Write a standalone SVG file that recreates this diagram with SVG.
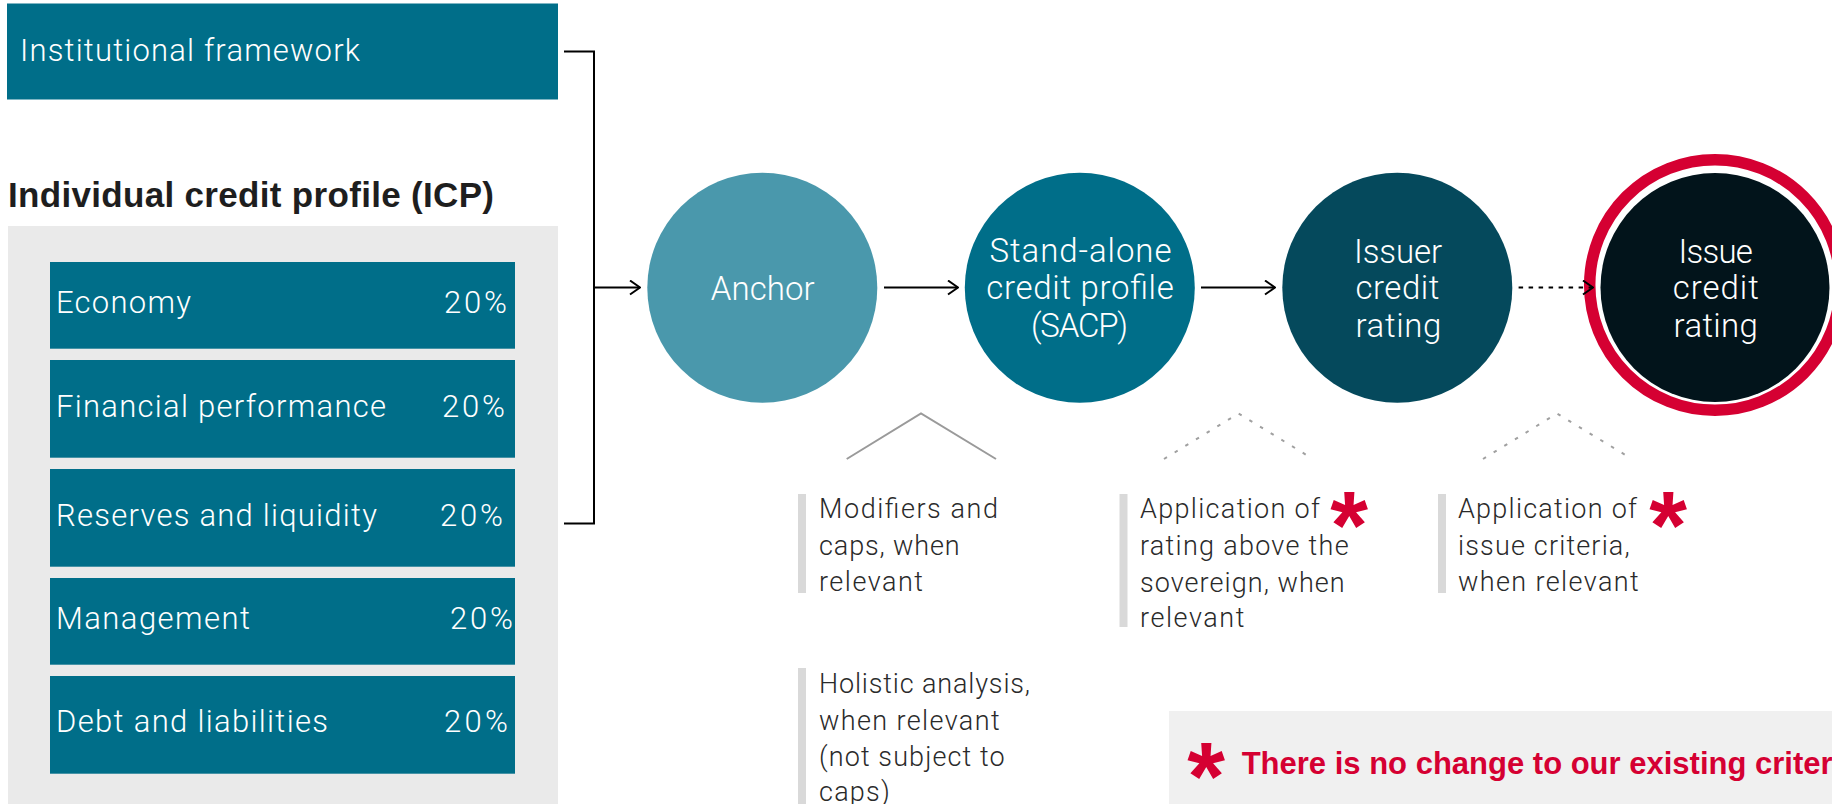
<svg xmlns="http://www.w3.org/2000/svg" width="1832" height="804" viewBox="0 0 1832 804">
  <style>
    .lt { font-family: Roboto, "Liberation Sans", Arial, sans-serif; font-weight: 300; }
    .white { fill: #ffffff; }
    .boxt { font-size: 31px; }
    .circt { font-size: 33px; }
    .note { font-size: 27px; fill: #2a2a2a; }
    .hdr { font-family: "Liberation Sans", Arial, sans-serif; font-weight: 700; font-size: 35px; fill: #1e1e1e; }
    .star { font-family: "Liberation Sans", Arial, sans-serif; font-weight: 700; font-size: 97px; fill: #d50032; }
    .foot { font-family: "Liberation Sans", Arial, sans-serif; font-weight: 700; font-size: 31px; fill: #d50032; }
    .teal { fill: #006e89; }
    .bar { fill: #d9d9d9; }
    .conn { fill: none; stroke: #000000; stroke-width: 2; }
    .hat { fill: none; stroke: #9a9a9a; stroke-width: 2; }
    .hat-dot { fill: none; stroke: #a0a0a0; stroke-width: 2; stroke-dasharray: 3.5 9; }
  </style>
  <defs>
    <marker id="chev" viewBox="0 0 12 16" refX="11" refY="8" markerWidth="12" markerHeight="16" markerUnits="userSpaceOnUse" orient="auto">
      <path d="M1,1 L11,8 L1,15" fill="none" stroke="#000000" stroke-width="2"/>
    </marker>
  </defs>

  <rect width="1832" height="804" fill="#ffffff"/>

  <!-- Institutional framework -->
  <g id="institutional-framework">
    <rect class="teal" x="7" y="3.5" width="551" height="96"/>
    <text class="lt white boxt" x="20" y="61" font-size="32" textLength="340">Institutional framework</text>
  </g>

  <!-- Individual credit profile -->
  <g id="icp">
    <text class="hdr" x="8" y="207" textLength="486">Individual credit profile (ICP)</text>
    <rect x="8" y="226" width="550" height="578" fill="#eaeaea"/>
  </g>

  <g id="icp-economy">
    <rect class="teal" x="50" y="262" width="465" height="86.7"/>
    <text class="lt white boxt" x="56" y="313.3" textLength="135">Economy</text>
    <text class="lt white boxt" x="444" y="313.3" textLength="63">20%</text>
  </g>
  <g id="icp-financial">
    <rect class="teal" x="50" y="360" width="465" height="97.7"/>
    <text class="lt white boxt" x="56" y="416.7" textLength="330">Financial performance</text>
    <text class="lt white boxt" x="442" y="416.7" textLength="63">20%</text>
  </g>
  <g id="icp-reserves">
    <rect class="teal" x="50" y="469" width="465" height="97.7"/>
    <text class="lt white boxt" x="56" y="525.5" textLength="321">Reserves and liquidity</text>
    <text class="lt white boxt" x="440" y="525.5" textLength="63">20%</text>
  </g>
  <g id="icp-management">
    <rect class="teal" x="50" y="578" width="465" height="86.7"/>
    <text class="lt white boxt" x="56" y="629.3" textLength="194">Management</text>
    <text class="lt white boxt" x="450" y="629.3" textLength="63">20%</text>
  </g>
  <g id="icp-debt">
    <rect class="teal" x="50" y="676" width="465" height="97.7"/>
    <text class="lt white boxt" x="56" y="732.3" textLength="272">Debt and liabilities</text>
    <text class="lt white boxt" x="444" y="732.3" textLength="64">20%</text>
  </g>

  <!-- Rating chain -->
  <g id="anchor">
    <circle cx="762.3" cy="287.8" r="115" fill="#4a98ac"/>
    <text class="lt white circt" x="710.7" y="300" textLength="104">Anchor</text>
  </g>
  <g id="sacp">
    <circle cx="1079.8" cy="287.8" r="115" fill="#006e89"/>
    <text class="lt white circt" x="989.5" y="262" textLength="182">Stand-alone</text>
    <text class="lt white circt" x="986.3" y="299" textLength="187.5">credit profile</text>
    <text class="lt white circt" x="1031" y="336.7" textLength="97">(SACP)</text>
  </g>
  <g id="issuer-rating">
    <circle cx="1397.3" cy="287.8" r="115" fill="#05495c"/>
    <text class="lt white circt" x="1354" y="262.7" textLength="88">Issuer</text>
    <text class="lt white circt" x="1355.4" y="299.3" textLength="84">credit</text>
    <text class="lt white circt" x="1355.4" y="336.7" textLength="86">rating</text>
  </g>
  <g id="issue-rating">
    <circle cx="1715" cy="285" r="125.3" fill="none" stroke="#d50032" stroke-width="11.5"/>
    <circle cx="1715" cy="287.5" r="114.5" fill="#02141b"/>
    <text class="lt white circt" x="1678.6" y="262.7" textLength="74.2">Issue</text>
    <text class="lt white circt" x="1672.8" y="299.3" textLength="86">credit</text>
    <text class="lt white circt" x="1673.6" y="336.7" textLength="84.3">rating</text>
  </g>

  <!-- Adjustment notes -->
  <g id="note-modifiers">
    <rect class="bar" x="798" y="494" width="8" height="99"/>
    <text class="lt note" x="819" y="518" textLength="179">Modifiers and</text>
    <text class="lt note" x="819" y="555" textLength="140.7">caps, when</text>
    <text class="lt note" x="819" y="591" textLength="104">relevant</text>
  </g>
  <g id="note-holistic">
    <rect class="bar" x="798" y="668" width="8" height="136"/>
    <text class="lt note" x="819" y="693.3" textLength="211">Holistic analysis,</text>
    <text class="lt note" x="819" y="729.5" textLength="180.6">when relevant</text>
    <text class="lt note" x="819" y="766" textLength="185.6">(not subject to</text>
    <text class="lt note" x="819" y="801" textLength="70.8">caps)</text>
  </g>
  <g id="note-sovereign">
    <rect class="bar" x="1119.5" y="494" width="8" height="133"/>
    <text class="lt note" x="1140" y="518.3" textLength="180">Application of</text>
    <text class="lt note" x="1140" y="555" textLength="208.6">rating above the</text>
    <text class="lt note" x="1140" y="591.7" textLength="204.7">sovereign, when</text>
    <text class="lt note" x="1140" y="626.7" textLength="104.5">relevant</text>
    <text class="star" x="1330.3" y="558.6">*</text>
  </g>
  <g id="note-issue">
    <rect class="bar" x="1438" y="494" width="8" height="99"/>
    <text class="lt note" x="1458" y="518.3" textLength="179">Application of</text>
    <text class="lt note" x="1458" y="555" textLength="171.7">issue criteria,</text>
    <text class="lt note" x="1458" y="591" textLength="180.7">when relevant</text>
    <text class="star" x="1649.3" y="558.6">*</text>
  </g>

  <!-- Footnote -->
  <g id="footnote">
    <rect x="1169" y="711" width="663" height="93" fill="#f0f0f0"/>
    <text class="star" x="1187.3" y="809.6">*</text>
    <text class="foot" x="1241.7" y="774.3">There is no change to our existing criteria</text>
  </g>

  <!-- Connectors -->
  <g id="connectors">
    <path class="conn" d="M564,51.5 H594 V523.5 H564"/>
    <path class="conn" d="M594,287.5 H640" marker-end="url(#chev)"/>
    <path class="conn" d="M884,287.5 H958" marker-end="url(#chev)"/>
    <path class="conn" d="M1201,287.5 H1275" marker-end="url(#chev)"/>
    <path class="conn" d="M1518.6,287.5 H1593" stroke-dasharray="4.5 5.5" marker-end="url(#chev)"/>
    <path class="hat" d="M846.7,459 L921,413.3 L996,459"/>
    <path class="hat-dot" d="M1164,459 L1238.5,413.5 L1313,459"/>
    <path class="hat-dot" d="M1483,459 L1557,413.5 L1632,459"/>
  </g>
</svg>
